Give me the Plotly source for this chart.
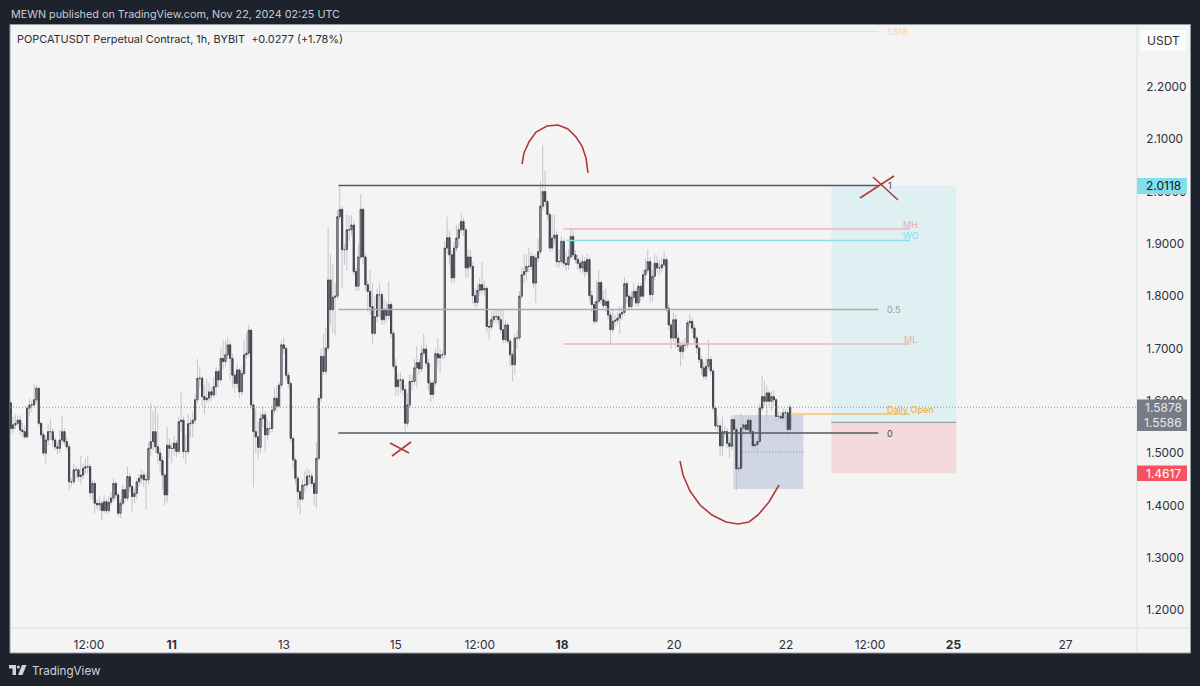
import pandas as pd
import plotly.graph_objects as go

W, H = 1200, 686

# --- hourly bars ---
opens = [1.596,1.547,1.554,1.557,1.563,1.544,1.541,1.531,1.586,1.592,1.592,1.602,1.624,1.557,1.535,1.500,1.525,1.541,1.541,1.525,
1.512,1.509,1.525,1.541,1.522,1.512,1.445,1.445,1.468,1.468,1.455,1.458,1.471,1.474,1.474,1.424,1.442,1.404,1.401,1.404,
1.390,1.407,1.390,1.406,1.414,1.442,1.420,1.385,1.404,1.430,1.414,1.455,1.436,1.417,1.423,1.445,1.452,1.458,1.449,1.449,
1.509,1.522,1.541,1.512,1.500,1.486,1.458,1.420,1.515,1.509,1.509,1.519,1.503,1.560,1.563,1.503,1.503,1.556,1.557,1.563,
1.602,1.643,1.643,1.608,1.602,1.605,1.617,1.611,1.627,1.656,1.640,1.681,1.675,1.688,1.707,1.681,1.649,1.633,1.659,1.617,
1.652,1.688,1.691,1.735,1.592,1.541,1.531,1.511,1.566,1.573,1.535,1.547,1.547,1.582,1.605,1.590,1.630,1.707,1.700,1.649,
1.633,1.528,1.487,1.452,1.426,1.412,1.439,1.439,1.456,1.456,1.442,1.423,1.490,1.605,1.685,1.656,1.701,1.831,1.774,1.798,
1.800,1.952,1.966,1.889,1.889,1.927,1.927,1.936,1.847,1.819,1.875,1.966,1.875,1.822,1.809,1.780,1.729,1.761,1.803,1.803,
1.755,1.774,1.763,1.784,1.729,1.666,1.627,1.640,1.640,1.621,1.557,1.592,1.637,1.637,1.663,1.673,1.661,1.691,1.699,1.672,
1.634,1.612,1.634,1.690,1.682,1.688,1.688,1.892,1.912,1.879,1.835,1.892,1.911,1.927,1.943,1.927,1.854,1.875,1.857,1.801,
1.788,1.811,1.822,1.812,1.815,1.742,1.741,1.755,1.761,1.761,1.755,1.736,1.717,1.745,1.714,1.688,1.669,1.720,1.720,1.800,
1.841,1.847,1.857,1.857,1.876,1.825,1.873,1.885,1.972,2.000,1.981,1.956,1.892,1.911,1.917,1.866,1.866,1.905,1.863,1.860,
1.875,1.914,1.879,1.870,1.863,1.854,1.866,1.847,1.870,1.801,1.784,1.752,1.790,1.826,1.793,1.782,1.790,1.764,1.736,1.752,
1.754,1.758,1.766,1.769,1.824,1.800,1.780,1.798,1.809,1.787,1.819,1.800,1.841,1.850,1.866,1.803,1.838,1.863,1.854,1.854,
1.860,1.870,1.777,1.745,1.720,1.755,1.720,1.704,1.694,1.707,1.707,1.749,1.752,1.739,1.720,1.701,1.679,1.663,1.647,1.666,
1.679,1.657,1.586,1.552,1.552,1.514,1.541,1.541,1.519,1.513,1.564,1.545,1.470,1.471,1.548,1.554,1.545,1.563,1.541,1.514,
1.516,1.522,1.586,1.608,1.599,1.615,1.599,1.608,1.602,1.570,1.570,1.567,1.577,1.577,1.545]
closes = [1.547,1.554,1.557,1.563,1.544,1.541,1.531,1.586,1.592,1.592,1.602,1.624,1.557,1.535,1.500,1.525,1.541,1.541,1.525,1.512,
1.509,1.525,1.541,1.522,1.512,1.445,1.445,1.468,1.468,1.455,1.458,1.471,1.474,1.474,1.424,1.442,1.404,1.401,1.404,1.390,
1.407,1.390,1.406,1.414,1.442,1.420,1.385,1.404,1.430,1.414,1.455,1.436,1.417,1.423,1.445,1.452,1.458,1.449,1.449,1.509,
1.522,1.541,1.512,1.500,1.486,1.458,1.420,1.515,1.509,1.509,1.519,1.503,1.560,1.563,1.503,1.503,1.556,1.557,1.563,1.602,
1.643,1.643,1.608,1.602,1.605,1.617,1.611,1.627,1.656,1.640,1.681,1.675,1.688,1.707,1.681,1.649,1.633,1.659,1.617,1.652,
1.688,1.691,1.735,1.592,1.541,1.531,1.511,1.566,1.573,1.535,1.547,1.547,1.582,1.605,1.590,1.630,1.707,1.700,1.649,1.633,
1.528,1.487,1.452,1.426,1.412,1.439,1.439,1.456,1.456,1.442,1.423,1.490,1.605,1.685,1.656,1.701,1.831,1.774,1.798,1.800,
1.952,1.966,1.889,1.889,1.927,1.927,1.936,1.847,1.819,1.875,1.966,1.875,1.822,1.809,1.780,1.729,1.761,1.803,1.803,1.755,
1.774,1.763,1.784,1.729,1.666,1.627,1.640,1.640,1.621,1.557,1.592,1.637,1.637,1.663,1.673,1.661,1.691,1.699,1.672,1.634,
1.612,1.634,1.690,1.682,1.688,1.688,1.892,1.912,1.879,1.835,1.892,1.911,1.927,1.943,1.927,1.854,1.875,1.857,1.801,1.788,
1.811,1.822,1.812,1.815,1.742,1.741,1.755,1.761,1.761,1.755,1.736,1.717,1.745,1.714,1.688,1.669,1.720,1.720,1.800,1.841,
1.847,1.857,1.857,1.876,1.825,1.873,1.885,1.972,2.000,1.981,1.956,1.892,1.911,1.917,1.866,1.866,1.905,1.863,1.860,1.875,
1.914,1.879,1.870,1.863,1.854,1.866,1.847,1.870,1.801,1.784,1.752,1.790,1.826,1.793,1.782,1.790,1.764,1.736,1.752,1.754,
1.758,1.766,1.769,1.824,1.800,1.780,1.798,1.809,1.787,1.819,1.800,1.841,1.850,1.866,1.803,1.838,1.863,1.854,1.854,1.860,
1.870,1.777,1.745,1.720,1.755,1.720,1.704,1.694,1.707,1.707,1.749,1.752,1.739,1.720,1.701,1.679,1.663,1.647,1.666,1.679,
1.657,1.586,1.552,1.552,1.514,1.541,1.541,1.519,1.513,1.564,1.545,1.470,1.471,1.548,1.554,1.545,1.563,1.541,1.514,1.516,
1.522,1.586,1.608,1.599,1.615,1.599,1.608,1.602,1.570,1.570,1.567,1.577,1.577,1.545,1.588]
highs = [1.600,1.570,1.573,1.572,1.572,1.558,1.552,1.590,1.604,1.600,1.633,1.630,1.626,1.560,1.540,1.535,1.555,1.565,1.548,1.530,
1.520,1.545,1.572,1.548,1.530,1.518,1.452,1.480,1.475,1.472,1.495,1.480,1.490,1.495,1.480,1.448,1.446,1.412,1.418,1.410,
1.420,1.413,1.418,1.425,1.452,1.446,1.425,1.412,1.440,1.435,1.474,1.462,1.440,1.432,1.452,1.460,1.470,1.465,1.462,1.520,
1.596,1.580,1.590,1.575,1.510,1.495,1.462,1.550,1.528,1.520,1.532,1.525,1.570,1.617,1.570,1.535,1.575,1.568,1.580,1.612,
1.680,1.665,1.648,1.630,1.642,1.635,1.625,1.645,1.665,1.660,1.700,1.716,1.715,1.722,1.712,1.690,1.655,1.672,1.662,1.665,
1.715,1.730,1.745,1.738,1.595,1.585,1.560,1.578,1.590,1.580,1.565,1.560,1.590,1.625,1.630,1.635,1.716,1.720,1.705,1.655,
1.636,1.532,1.492,1.456,1.430,1.450,1.465,1.472,1.468,1.462,1.448,1.520,1.612,1.700,1.729,1.740,1.933,1.880,1.863,1.825,
1.965,2.010,1.972,1.900,1.957,1.955,1.955,1.945,1.855,1.900,1.995,1.970,1.880,1.830,1.850,1.825,1.800,1.815,1.825,1.810,
1.795,1.790,1.828,1.790,1.735,1.680,1.652,1.655,1.645,1.630,1.615,1.650,1.650,1.680,1.705,1.680,1.705,1.728,1.710,1.680,
1.640,1.640,1.700,1.720,1.700,1.695,1.905,1.952,1.925,1.888,1.905,1.935,1.940,1.960,1.950,1.932,1.890,1.888,1.865,1.815,
1.825,1.835,1.865,1.830,1.820,1.755,1.770,1.775,1.772,1.775,1.775,1.775,1.755,1.750,1.720,1.695,1.728,1.735,1.810,1.855,
1.880,1.880,1.892,1.885,1.880,1.880,1.910,2.020,2.089,2.040,1.985,1.960,1.955,1.955,1.925,1.890,1.915,1.910,1.885,1.890,
1.931,1.925,1.888,1.880,1.872,1.880,1.875,1.880,1.875,1.810,1.790,1.830,1.850,1.830,1.810,1.815,1.795,1.770,1.775,1.765,
1.770,1.780,1.780,1.836,1.830,1.805,1.810,1.825,1.815,1.825,1.825,1.850,1.872,1.889,1.875,1.850,1.880,1.878,1.870,1.875,
1.885,1.875,1.785,1.750,1.770,1.765,1.730,1.712,1.715,1.720,1.755,1.765,1.760,1.745,1.725,1.706,1.685,1.675,1.682,1.717,
1.685,1.662,1.590,1.570,1.558,1.570,1.552,1.548,1.530,1.572,1.570,1.550,1.480,1.575,1.568,1.562,1.572,1.570,1.545,1.530,
1.530,1.595,1.647,1.638,1.630,1.620,1.618,1.620,1.606,1.580,1.578,1.585,1.585,1.582,1.594]
lows = [1.540,1.538,1.545,1.550,1.535,1.530,1.527,1.528,1.570,1.578,1.590,1.595,1.550,1.528,1.494,1.480,1.515,1.525,1.512,1.505,
1.498,1.500,1.518,1.515,1.505,1.430,1.435,1.440,1.450,1.445,1.440,1.450,1.462,1.460,1.415,1.410,1.385,1.392,1.390,1.372,
1.385,1.385,1.384,1.400,1.408,1.412,1.378,1.375,1.398,1.405,1.408,1.425,1.388,1.405,1.412,1.436,1.440,1.435,1.392,1.440,
1.495,1.505,1.500,1.480,1.465,1.430,1.400,1.405,1.490,1.480,1.495,1.492,1.498,1.540,1.490,1.480,1.498,1.530,1.530,1.555,
1.595,1.625,1.590,1.575,1.595,1.598,1.600,1.605,1.610,1.625,1.635,1.660,1.665,1.680,1.640,1.625,1.615,1.625,1.605,1.610,
1.648,1.680,1.685,1.585,1.435,1.500,1.488,1.500,1.550,1.502,1.525,1.535,1.540,1.575,1.580,1.585,1.625,1.690,1.640,1.625,
1.520,1.470,1.440,1.395,1.382,1.408,1.425,1.432,1.440,1.435,1.400,1.395,1.485,1.598,1.650,1.650,1.695,1.745,1.730,1.725,
1.795,1.945,1.815,1.860,1.850,1.905,1.915,1.840,1.810,1.810,1.870,1.860,1.810,1.770,1.765,1.710,1.725,1.750,1.760,1.745,
1.745,1.750,1.755,1.720,1.660,1.610,1.610,1.615,1.610,1.541,1.550,1.585,1.620,1.630,1.625,1.650,1.655,1.685,1.665,1.620,
1.598,1.605,1.628,1.665,1.655,1.680,1.680,1.880,1.860,1.825,1.825,1.885,1.895,1.920,1.915,1.835,1.835,1.850,1.785,1.778,
1.780,1.800,1.805,1.800,1.730,1.717,1.735,1.748,1.750,1.745,1.728,1.710,1.710,1.708,1.665,1.637,1.650,1.700,1.715,1.795,
1.825,1.830,1.845,1.850,1.815,1.787,1.865,1.880,1.965,1.970,1.945,1.885,1.885,1.900,1.855,1.855,1.860,1.855,1.850,1.850,
1.870,1.870,1.862,1.850,1.845,1.842,1.835,1.840,1.790,1.770,1.745,1.748,1.785,1.785,1.775,1.770,1.755,1.710,1.730,1.740,
1.745,1.728,1.755,1.762,1.785,1.775,1.775,1.790,1.780,1.780,1.790,1.795,1.830,1.845,1.787,1.790,1.830,1.845,1.840,1.845,
1.855,1.770,1.735,1.699,1.712,1.700,1.695,1.666,1.680,1.695,1.700,1.740,1.730,1.710,1.690,1.672,1.650,1.640,1.640,1.660,
1.650,1.580,1.545,1.540,1.494,1.495,1.530,1.510,1.490,1.505,1.510,1.429,1.462,1.465,1.535,1.535,1.540,1.530,1.505,1.505,
1.502,1.518,1.580,1.590,1.557,1.590,1.580,1.590,1.560,1.562,1.558,1.560,1.550,1.529,1.540]

times = pd.date_range('2024-11-08 03:00', periods=len(closes), freq='h')

# --- axis ticks (later ones nudged back so the labels land where the chart has them) ---
price_ticks = [1.2, 1.3, 1.4, 1.5, 1.6, 1.7, 1.8, 1.9, 2.0, 2.1, 2.2]
time_ticks = ['2024-11-09 12:30', '2024-11-11', '2024-11-13', '2024-11-15', '2024-11-16 12:00', '2024-11-17 23:15',
              '2024-11-19 23:15', '2024-11-21 23:15', '2024-11-23 11:15', '2024-11-24 23:00', '2024-11-26 23:00']
time_labels = ['12:00', '<b>11</b>', '13', '15', '12:00', '<b>18</b>', '20', '22', '12:00', '<b>25</b>', '27']

# --- drawn levels: price, start, end, colour, width ---
FIB_START, FIB_END = '2024-11-13 23:24', '2024-11-23 14:48'
ZONE_START, ZONE_END = '2024-11-17 23:48', '2024-11-24 04:30'
levels = [
    (2.3060, FIB_START, FIB_END, '#f6dcb8', 1),
    (2.0118, FIB_START, FIB_END, '#555860', 1.5),
    (1.7746, FIB_START, FIB_END, '#a8abb0', 1.5),
    (1.5384, FIB_START, FIB_END, '#555860', 1.5),
    (1.9285, ZONE_START, ZONE_END, '#f2b6be', 1.4),
    (1.9065, '2024-11-18 01:00', ZONE_END, '#8fdfe8', 1.4),
    (1.7086, ZONE_START, ZONE_END, '#f2b6be', 1.4),
    (1.5748, '2024-11-22 02:00', ZONE_END, '#f5a92f', 1.2),
]
level_labels = [
    ('1.618', 886, 2.3060, '#f6d4a6'), ('1', 887, 2.0118, '#444444'), ('0.5', 886, 1.7746, '#9a9da3'),
    ('0', 886, 1.5384, '#444444'), ('MH', 901.5, 1.9365, '#efa9b2'), ('WO', 901.5, 1.9155, '#7fdbe6'),
    ('ML', 902.5, 1.7180, '#efa9b2'), ('Daily Open', 886, 1.5840, '#f5a92f'),
]

# hand drawn red strokes, in page pixels
stroke_top = [(522, 164), (524, 153), (529, 142), (536, 132), (547, 126), (558, 125), (568, 129), (576, 137), (582, 146), (586, 158), (588, 173)]
stroke_bottom = [(680, 461), (683, 475), (690, 491), (700, 505), (712, 515), (726, 522), (738, 524), (749, 522), (758, 515), (769, 502), (779, 485)]
stroke_x = [[(860, 198), (894, 176)], [(873, 177), (898, 200)], [(390, 443), (409, 453)], [(392, 456), (411, 442)]]


def px(x):
    return x / W


def py(y):
    return 1 - y / H


def page_rect(x0, y0, x1, y1, fill, line=None, layer='below'):
    return dict(type='rect', xref='paper', yref='paper', x0=px(x0), x1=px(x1), y0=py(y0), y1=py(y1),
                fillcolor=fill, line=dict(color=line or fill, width=1 if line else 0), layer=layer)


def stroke_path(points):
    d = 'M ' + ' L '.join(f'{px(a):.5f},{py(b):.5f}' for a, b in points)
    return dict(type='path', xref='paper', yref='paper', path=d, line=dict(color='#b2393b', width=1.6), layer='above')


def page_text(text, x, y, color, size=11, anchor='left'):
    return dict(text=text, xref='paper', yref='paper', x=px(x), y=py(y), showarrow=False, xanchor=anchor,
                yanchor='middle', font=dict(color=color, size=size), borderpad=0)


def price_text(text, x, price, color, size=9, anchor='left'):
    return dict(text=text, xref='paper', yref='y', x=px(x), y=price, showarrow=False, xanchor=anchor,
                yanchor='middle', font=dict(color=color, size=size), borderpad=0)


fig = go.Figure()

# wicks in a light grey, then bodies on top with a dark outline
fig.add_trace(go.Candlestick(
    x=times, open=opens, high=highs, low=lows, close=closes,
    increasing=dict(line=dict(color='#c4c5c9', width=1), fillcolor='#c4c5c9'),
    decreasing=dict(line=dict(color='#c4c5c9', width=1), fillcolor='#c4c5c9'),
    whiskerwidth=0, showlegend=False, hoverinfo='skip'))
fig.add_trace(go.Candlestick(
    x=times, open=opens, close=closes,
    high=[max(a, b) for a, b in zip(opens, closes)], low=[min(a, b) for a, b in zip(opens, closes)],
    increasing=dict(line=dict(color='#43454f', width=1), fillcolor='#fafafa'),
    decreasing=dict(line=dict(color='#43454f', width=1), fillcolor='#43454f'),
    whiskerwidth=0, showlegend=False, hoverinfo='skip'))

shapes = [
    page_rect(10, 24.5, 1190.5, 653, '#f4f4f4', '#9a9ca3'),
    dict(type='line', xref='paper', yref='paper', x0=px(10), x1=px(1190), y0=py(628), y1=py(628),
         line=dict(color='#dcdee2', width=1), layer='below'),
    dict(type='line', xref='paper', yref='paper', x0=px(1137), x1=px(1137), y0=py(25), y1=py(653),
         line=dict(color='#dcdee2', width=1), layer='below'),
    # position tool and the order block
    dict(type='rect', x0='2024-11-22 18:40', x1='2024-11-25 00:12', y0=1.5586, y1=2.0118, fillcolor='#dff0f2',
         line=dict(width=0), layer='below'),
    dict(type='rect', x0='2024-11-22 18:40', x1='2024-11-25 00:12', y0=1.4617, y1=1.5586, fillcolor='#f5dadd',
         line=dict(width=0), layer='below'),
    dict(type='rect', x0='2024-11-21 00:42', x1='2024-11-22 06:42', y0=1.4314, y1=1.5728, fillcolor='#d0d6e4',
         line=dict(width=0), layer='below'),
    dict(type='line', x0='2024-11-21 04:30', x1='2024-11-22 06:42', y0=1.502, y1=1.502,
         line=dict(color='#7d86a0', width=1, dash='1px,2px'), layer='above'),
    dict(type='line', x0='2024-11-22 18:40', x1='2024-11-25 00:12', y0=1.5586, y1=1.5586,
         line=dict(color='#9a9da6', width=1.2), layer='above'),
    # last price line
    dict(type='line', xref='paper', x0=px(10), x1=px(1137), y0=1.5878, y1=1.5878,
         line=dict(color='#8f9197', width=1, dash='1px,2px'), layer='above'),
]
for price, start, end, color, width in levels:
    shapes.append(dict(type='line', x0=start, x1=end, y0=price, y1=price, line=dict(color=color, width=width), layer='above'))
for stroke in [stroke_top, stroke_bottom] + stroke_x:
    shapes.append(stroke_path(stroke))

# price badges and the USDT button
shapes += [
    page_rect(1137, 178, 1187, 194, '#80dfea', layer='above'),
    page_rect(1137, 399.5, 1187, 431, '#787b86', layer='above'),
    page_rect(1137, 465.5, 1187, 481, '#f7525f', layer='above'),
    page_rect(1140, 29, 1187, 52, '#fbfbfb', '#eeeff1', layer='below'),
]

# TradingView logo
shapes += [
    dict(type='path', xref='paper', yref='paper', fillcolor='#d1d4dc', line=dict(width=0), layer='above',
         path=f'M {px(9)},{py(665)} L {px(16)},{py(665)} L {px(16)},{py(675)} L {px(12.5)},{py(675)} L {px(12.5)},{py(668.5)} L {px(9)},{py(668.5)} Z'),
    dict(type='circle', xref='paper', yref='paper', x0=px(16.8), x1=px(19.8), y0=py(668.5), y1=py(665.5),
         fillcolor='#d1d4dc', line=dict(width=0), layer='above'),
    dict(type='path', xref='paper', yref='paper', fillcolor='#d1d4dc', line=dict(width=0), layer='above',
         path=f'M {px(22)},{py(665)} L {px(26.5)},{py(665)} L {px(22.5)},{py(675)} L {px(18)},{py(675)} Z'),
]

annotations = [
    page_text('MEWN published on TradingView.com, Nov 22, 2024 02:25 UTC', 10, 14, '#c9ccd4', 10.8),
    page_text('POPCATUSDT Perpetual Contract, 1h, BYBIT  +0.0277 (+1.78%)', 16, 39, '#2a2d35', 10.9),
    page_text('TradingView', 31, 671, '#d1d4dc', 11.6),
    page_text('USDT', 1163.5, 40.5, '#2a2e39', 12, 'center'),
    price_text('2.0118', 1163, 2.0118, '#131722', 12, 'center'),
    price_text('1.5878', 1163, 1.5878, '#e8e9ec', 12, 'center'),
    price_text('1.5586', 1163, 1.5586, '#e8e9ec', 12, 'center'),
    price_text('1.4617', 1163, 1.4617, '#ffffff', 12, 'center'),
]
for text, x, price, color in level_labels:
    annotations.append(price_text(text, x, price, color))

fig.update_layout(
    width=W, height=H,
    paper_bgcolor='#1e222d', plot_bgcolor='rgba(0,0,0,0)',
    margin=dict(l=0, r=0, t=0, b=0, autoexpand=False),
    font=dict(family='Inter', color='#2e3038', size=12),
    xaxis=dict(domain=[px(10), px(1137)], range=['2024-11-08 02:40', '2024-11-28 05:40'], rangeslider=dict(visible=False),
               tickmode='array', tickvals=time_ticks, ticktext=time_labels, ticks='outside', ticklen=6,
               tickcolor='rgba(0,0,0,0)', showgrid=False, zeroline=False, showline=False, tickfont=dict(size=12), tickangle=0),
    yaxis=dict(domain=[py(628), py(25)], range=[1.1656, 2.3185], side='right', tickmode='array', tickvals=price_ticks,
               tickformat='.4f', ticks='outside', ticklen=6, tickcolor='rgba(0,0,0,0)', showgrid=False,
               zeroline=False, showline=False, tickfont=dict(size=11.8)),
    shapes=shapes, annotations=annotations,
    hovermode=False, dragmode=False,
)

# page margin off so the figure sits flush in the window
fig.write_html('out.html', config=dict(displayModeBar=False), post_script="document.body.style.margin='0';")
